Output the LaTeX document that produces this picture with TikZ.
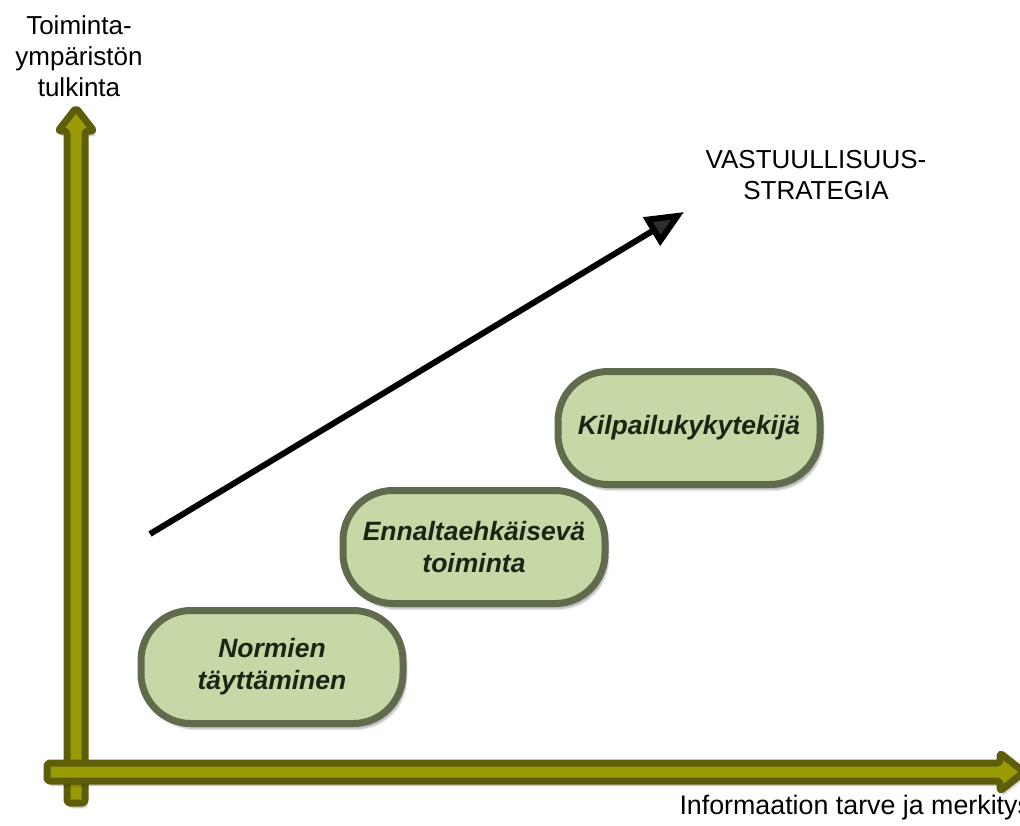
\documentclass[tikz,border=0pt]{standalone}
\usepackage{fontspec}
\setmainfont{Liberation Sans}
\usetikzlibrary{arrows.meta,shadows.blur}

\definecolor{axisdark}{HTML}{5E5E08}
\definecolor{axisfill}{HTML}{9A9A06}
\definecolor{boxline}{HTML}{5F6B4C}
\definecolor{boxfill}{HTML}{C6D8A6}
\definecolor{boxtext}{HTML}{1C2414}

\tikzset{
  axis/.style={draw=axisdark, fill=axisfill, line width=7pt, line join=round,
    rounded corners=3pt,
    blur shadow={shadow xshift=2pt, shadow yshift=-4pt, shadow blur steps=6, shadow opacity=35}},
  stage/.style={draw=boxline, fill=boxfill, line width=7pt, rounded corners=50pt,
    minimum width=262pt, minimum height=113pt, align=center,
    font=\fontsize{26.5}{32}\selectfont\bfseries\itshape, text=boxtext,
    blur shadow={shadow xshift=3pt, shadow yshift=-5pt, shadow blur steps=8, shadow opacity=35}},
  label/.style={align=center, font=\fontsize{26}{31}\selectfont, text=black},
  trend/.style={line width=6pt, -{Triangle[length=38pt, width=32pt]}}
}

\begin{document}
\begin{tikzpicture}[x=1pt, y=-1pt]
  \useasboundingbox (0,0) rectangle (1020,825);

  % vertical axis
  \path[axis] (67,803) -- (67,131) -- (58,131) -- (76,108) -- (94,131) -- (85,131)
    -- (85,803) -- cycle;
  % horizontal axis, drawn over the vertical one
  \path[axis] (47,763) -- (1000,763) -- (1000,753) -- (1024,772) -- (1000,791)
    -- (1000,781) -- (47,781) -- cycle;

  % axis labels
  \node[label] (ylab) at (79,56) {Toiminta-\\ympäristön\\tulkinta};
  \node[label, font=\fontsize{26.8}{31}\selectfont, anchor=west] (xlab) at (676,808)
    {Informaation tarve ja merkitys};

  % stages
  \node[stage] (s1) at (272,667) {Normien\\täyttäminen};
  \node[stage] (s2) at (474,547) {Ennaltaehkäisevä\\toiminta};
  \node[stage] (s3) at (689,428) {Kilpailukykytekijä};

  % trend arrow towards the strategy
  \coordinate (tstart) at (150,534);
  \coordinate (tend) at (684,212);
  \draw[trend] (tstart) -- (tend);

  \node[label] (goal) at (816,175) {VASTUULLISUUS-\\STRATEGIA};
\end{tikzpicture}
\end{document}
